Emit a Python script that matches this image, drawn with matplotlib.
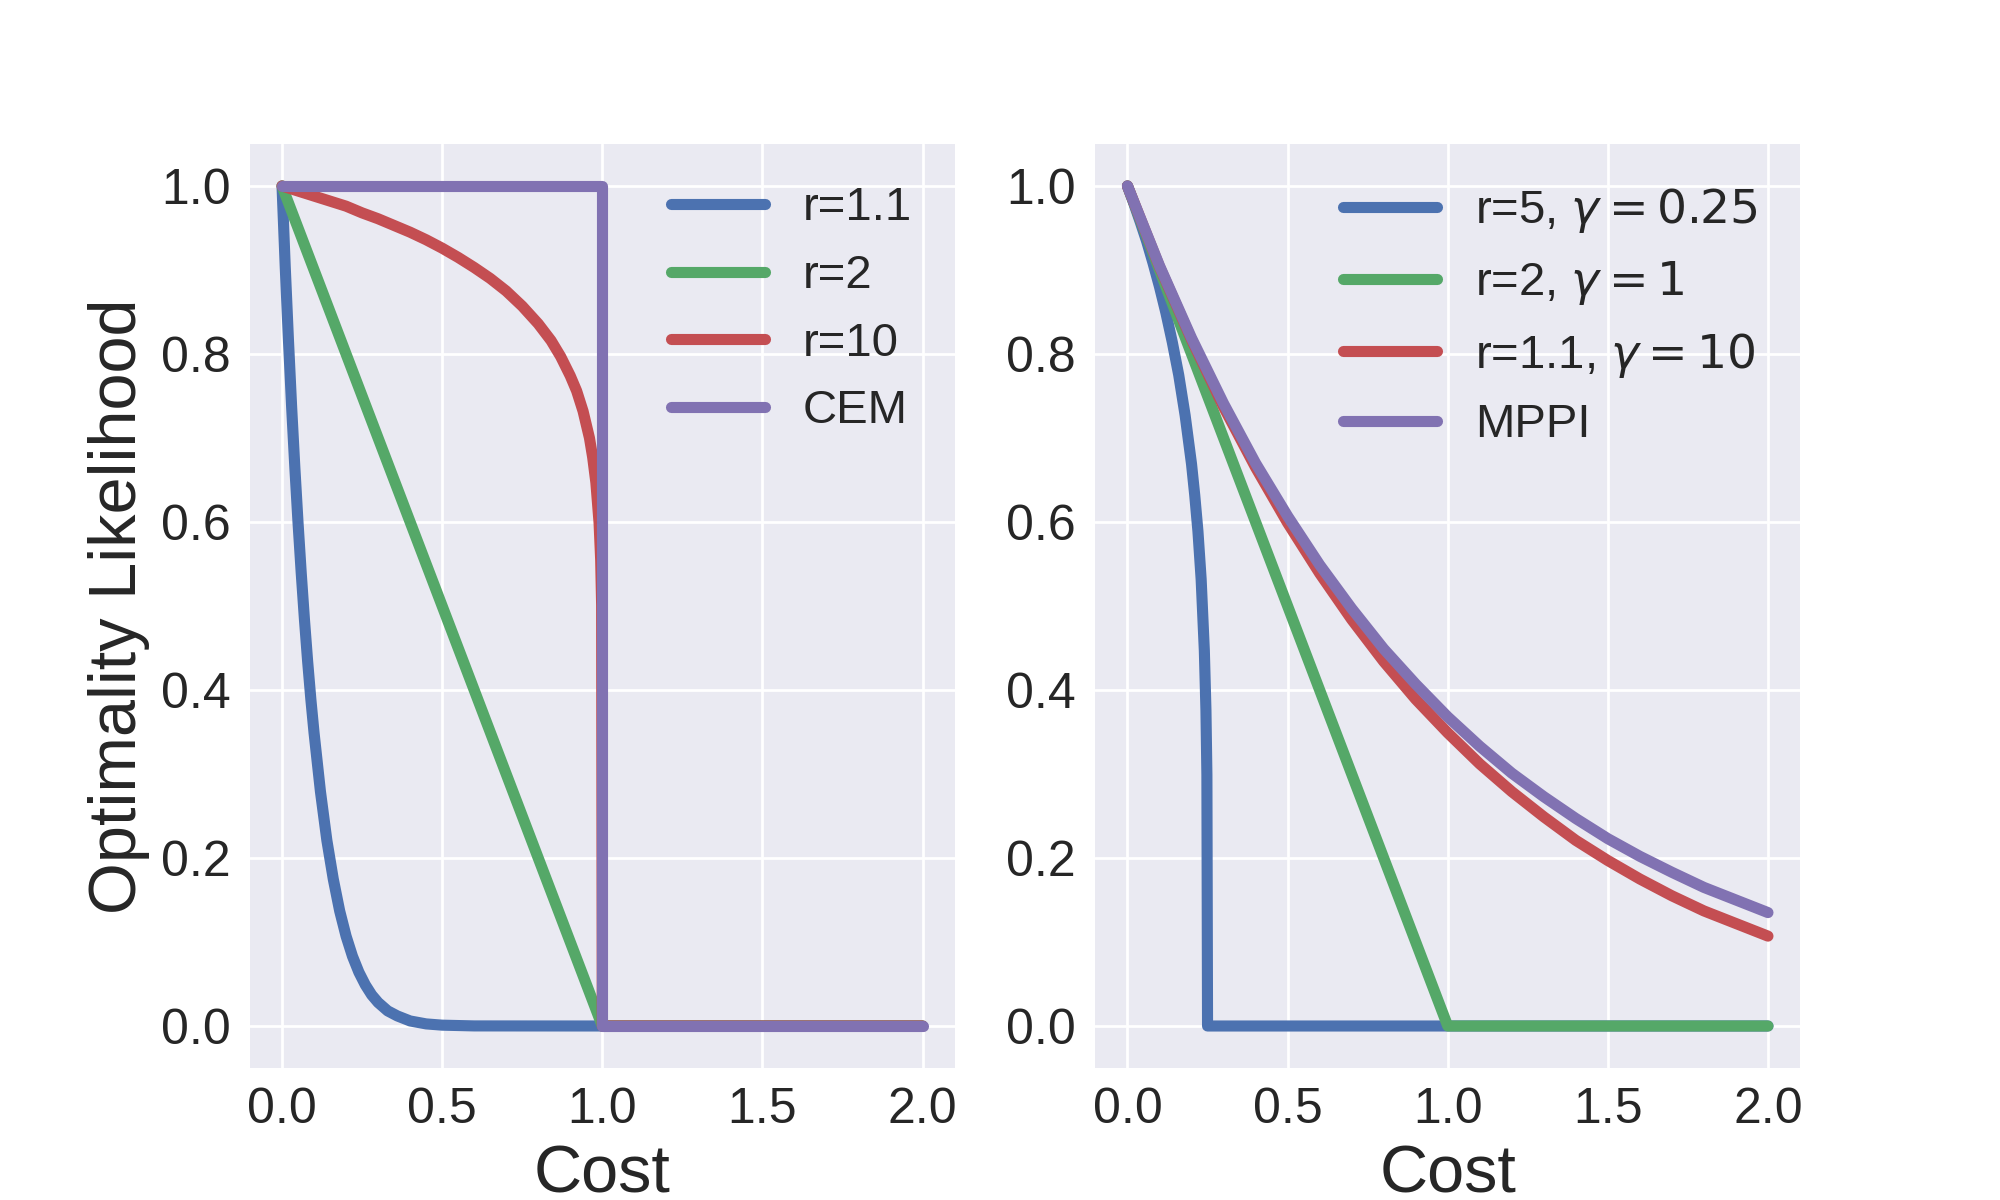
import numpy as np
import matplotlib
matplotlib.use("Agg")
import matplotlib.pyplot as plt

# values
# left panel (gamma = 1)
cost_r11 = [0.0, 0.01, 0.02, 0.03, 0.04, 0.05, 0.06, 0.07, 0.08, 0.09, 0.10, 0.12, 0.14,
            0.16, 0.18, 0.20, 0.22, 0.24, 0.26, 0.28, 0.30, 0.33, 0.36, 0.40, 0.45, 0.50, 0.60, 1.0, 2.0]
lik_r11 = [1.0, 0.904, 0.817, 0.737, 0.665, 0.599, 0.539, 0.484, 0.434, 0.389, 0.349, 0.279, 0.221,
           0.175, 0.137, 0.107, 0.083, 0.064, 0.049, 0.037, 0.028, 0.018, 0.012, 0.006, 0.0025, 0.001, 0.0001,
           0.0, 0.0]

cost_r2 = [0.0, 1.0, 2.0]
lik_r2 = [1.0, 0.0, 0.0]

cost_r10 = [0.0, 0.05, 0.10, 0.15, 0.20, 0.25, 0.30, 0.35, 0.40, 0.45, 0.50, 0.55, 0.60, 0.65,
            0.70, 0.75, 0.80, 0.84, 0.87, 0.90, 0.92, 0.94, 0.96, 0.97, 0.98, 0.99, 0.995, 0.998, 1.0, 2.0]
lik_r10 = [1.0, 0.994, 0.988, 0.982, 0.976, 0.968, 0.961, 0.953, 0.945, 0.936, 0.926, 0.915, 0.903, 0.890,
           0.875, 0.857, 0.836, 0.816, 0.797, 0.774, 0.756, 0.732, 0.700, 0.677, 0.647, 0.599, 0.555, 0.501,
           0.0, 0.0]

cost_cem = [0.0, 1.0, 1.0, 2.0]
lik_cem = [1.0, 1.0, 0.0, 0.0]

# right panel
cost_g025 = [0.0, 0.02, 0.04, 0.06, 0.08, 0.10, 0.12, 0.14, 0.16, 0.18, 0.20, 0.21, 0.22,
             0.23, 0.24, 0.245, 0.248, 0.25, 2.0]
lik_g025 = [1.0, 0.979, 0.957, 0.934, 0.908, 0.880, 0.849, 0.814, 0.775, 0.727, 0.669, 0.632, 0.589,
            0.532, 0.447, 0.376, 0.299, 0.0, 0.0]

cost_g1 = [0.0, 1.0, 2.0]
lik_g1 = [1.0, 0.0, 0.0]

cost_g10 = [0.0, 0.1, 0.2, 0.3, 0.4, 0.5, 0.6, 0.7, 0.8, 0.9, 1.0,
            1.1, 1.2, 1.3, 1.4, 1.5, 1.6, 1.7, 1.8, 1.9, 2.0]
lik_g10 = [1.0, 0.904, 0.817, 0.737, 0.665, 0.599, 0.539, 0.484, 0.434, 0.389, 0.349,
           0.312, 0.279, 0.249, 0.221, 0.197, 0.175, 0.155, 0.137, 0.122, 0.107]

cost_mppi = cost_g10
lik_mppi = [1.0, 0.905, 0.819, 0.741, 0.670, 0.607, 0.549, 0.497, 0.449, 0.407, 0.368,
            0.333, 0.301, 0.273, 0.247, 0.223, 0.202, 0.183, 0.165, 0.150, 0.135]

left_labels = ["r=1.1", "r=2", "r=10", "CEM"]
right_labels = [r"r=5, $\gamma = 0.25$", r"r=2, $\gamma = 1$", r"r=1.1, $\gamma = 10$", "MPPI"]
colors = ["#4C72B0", "#55A868", "#C44E52", "#8172B2"]

plt.style.use("seaborn-v0_8")

fig, (ax1, ax2) = plt.subplots(1, 2, figsize=(10, 6), dpi=200)

left = [(cost_r11, lik_r11), (cost_r2, lik_r2), (cost_r10, lik_r10), (cost_cem, lik_cem)]
right = [(cost_g025, lik_g025), (cost_g1, lik_g1), (cost_g10, lik_g10), (cost_mppi, lik_mppi)]

for (x, y), lab, c in zip(left, left_labels, colors):
    ax1.plot(x, y, color=c, lw=4, label=lab)
for (x, y), lab, c in zip(right, right_labels, colors):
    ax2.plot(x, y, color=c, lw=4, label=lab)

for ax in (ax1, ax2):
    ax.set_xticks(np.arange(0, 2.01, 0.5))
    ax.set_yticks(np.arange(0, 1.01, 0.2))
    ax.tick_params(labelsize=18)
    ax.set_xlabel("Cost", fontsize=24)
    ax.legend(loc="upper right", fontsize=17)

ax1.set_ylabel("Optimality Likelihood", fontsize=24)

fig.savefig("out.png", dpi=200)
